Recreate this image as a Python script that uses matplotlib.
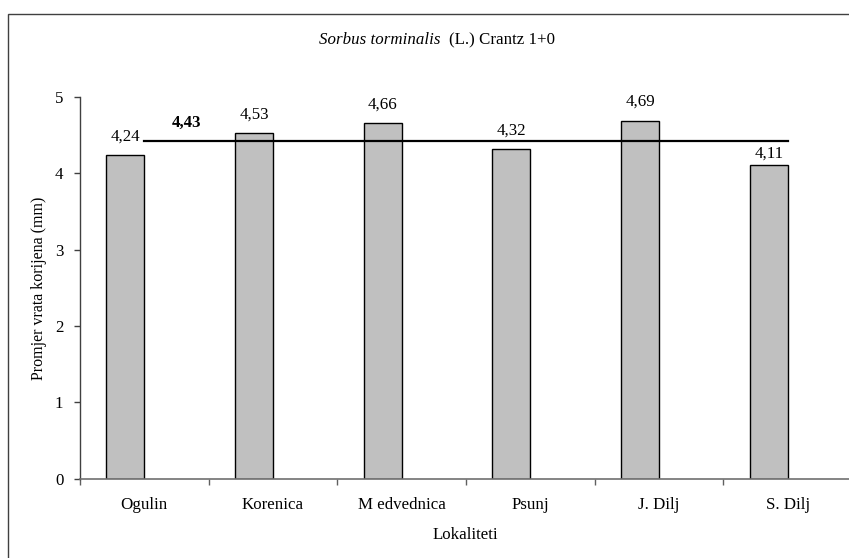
import matplotlib
matplotlib.use("Agg")
import matplotlib.pyplot as plt
from matplotlib.patches import Rectangle
import numpy as np

categories = ["Ogulin", "Korenica", "M edvednica", "Psunj", "J. Dilj", "S. Dilj"]
values = [4.24, 4.53, 4.66, 4.32, 4.69, 4.11]
value_labels = ["4,24", "4,53", "4,66", "4,32", "4,69", "4,11"]
mean_value = 4.43
mean_label = "4,43"
yticks = [0, 1, 2, 3, 4, 5]

plt.rcParams['font.family'] = ['Liberation Serif', 'DejaVu Serif']
FS = 12.2

W, H = 849, 558
fig = plt.figure(figsize=(W / 100, H / 100), dpi=100)

# outer frame (left & top visible, rest cut off)
fig.patches.append(Rectangle((8 / W, -0.1), 1.2, 1 - 14 / H + 0.1, transform=fig.transFigure,
                             fill=False, edgecolor='#404040', linewidth=1.0))

ax = fig.add_axes([80 / W, (H - 478.7) / H, (852 - 80) / W, (478.7 - 97) / H])
x = np.arange(len(categories))
bw = 0.295
ax.bar(x - bw, values, width=bw, align='edge', color='#c0c0c0', edgecolor='black', linewidth=1.0, zorder=2)

ax.plot([x[0], x[-1]], [mean_value, mean_value], color='black', linewidth=1.6, zorder=3)
ax.text(x[0] + 0.33, 4.66, mean_label, fontweight='bold', ha='center', va='center', fontsize=FS)

for xi, v, lab in zip(x, values, value_labels):
    # a label that would sit on the mean line is tucked closer to its bar
    off = 5 if (xi > 0 and mean_value - v > 0.15) else 10.5
    ax.annotate(lab, (xi - bw / 2, v), xytext=(0, off), textcoords='offset points',
                ha='center', va='baseline', fontsize=FS)

ax.set_xlim(-0.5, len(categories) - 0.5)
ax.set_ylim(0, 5)
ax.set_yticks(yticks)
ax.set_yticklabels([str(t) for t in yticks], fontsize=FS)
ax.tick_params(axis='y', direction='out', length=4, width=1, color='#404040', pad=8)

ax.set_xticks(np.arange(len(categories)) - 0.5)
ax.set_xticklabels([])
ax.tick_params(axis='x', which='major', direction='out', length=4, width=1, color='#606060')
ax.set_xticks(x, minor=True)
ax.set_xticklabels(categories, minor=True, fontsize=FS)
ax.tick_params(axis='x', which='minor', length=0, pad=13)

for s in ['top', 'right']:
    ax.spines[s].set_visible(False)
ax.spines['left'].set_color('#404040')
ax.spines['bottom'].set_color('#707070')
ax.spines['left'].set_linewidth(1.0)
ax.spines['bottom'].set_linewidth(1.2)

fig.text(39 / W, 1 - 288 / H, "Promjer vrata korijena (mm)", rotation=90, ha='center', va='center', fontsize=11.5)
fig.text(465 / W, 1 - 535 / H, "Lokaliteti", ha='center', va='center', fontsize=FS)

# title: italic species name followed by upright authority
title_it = "Sorbus torminalis"
title_rest = "(L.) Crantz 1+0"
r = fig.canvas.get_renderer()
ta = fig.text(0, 1 - 40 / H, title_it, style='italic', ha='left', va='center', fontsize=FS)
tb = fig.text(0, 1 - 40 / H, title_rest, ha='left', va='center', fontsize=FS)
wa = ta.get_window_extent(r).width
wb = tb.get_window_extent(r).width
gap = 8
total = wa + gap + wb
x0 = 437 - total / 2
ta.set_x(x0 / W)
tb.set_x((x0 + wa + gap) / W)

fig.savefig("out.png", dpi=100)
